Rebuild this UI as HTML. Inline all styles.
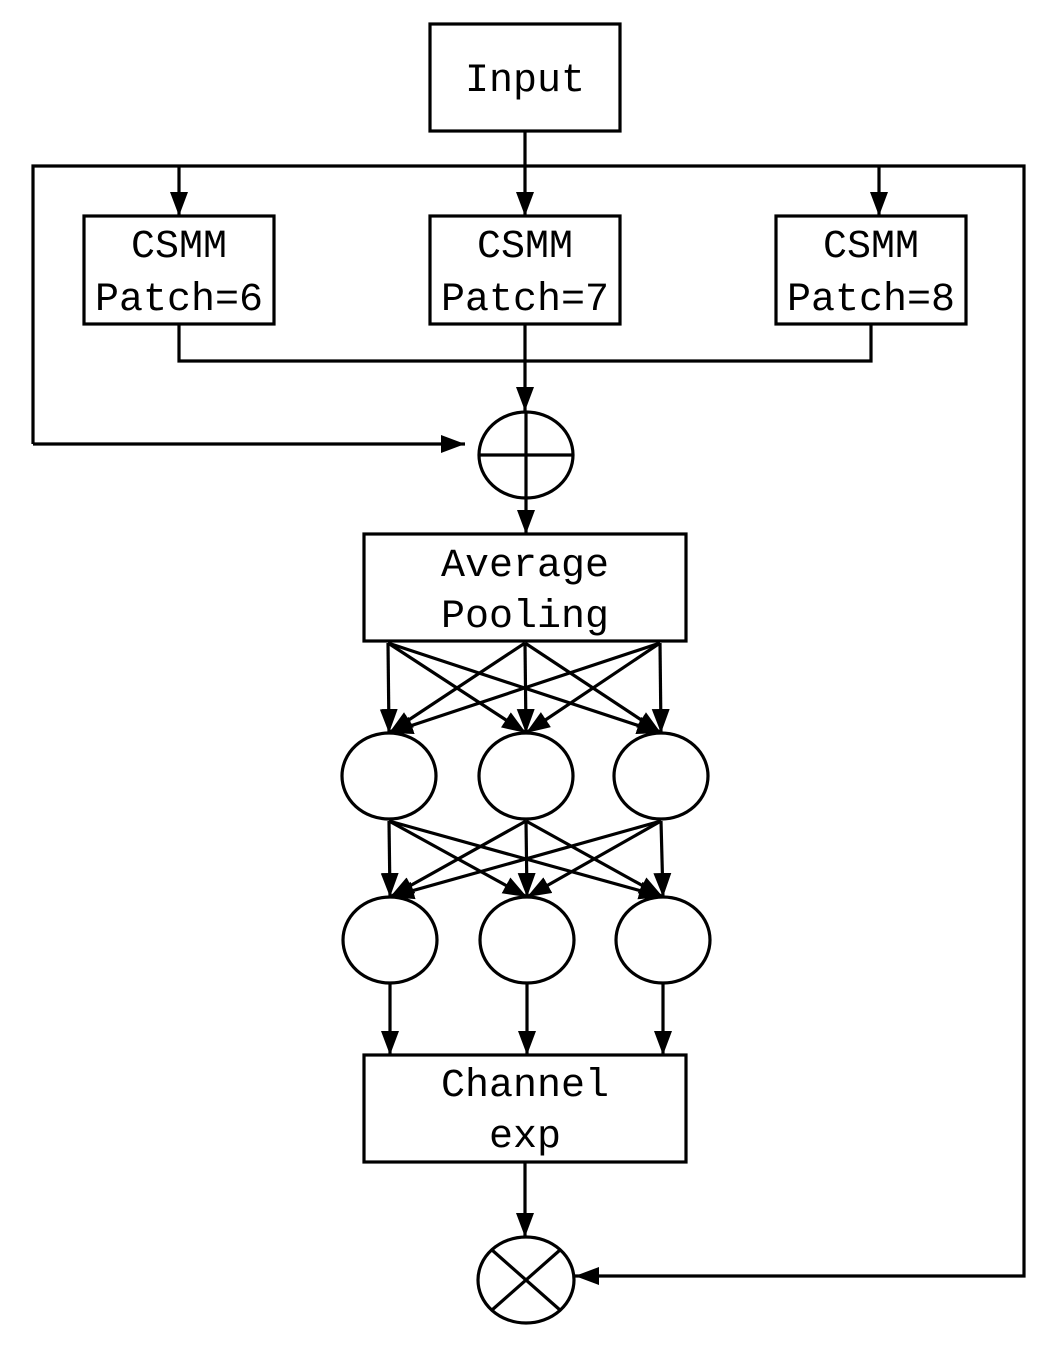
<!DOCTYPE html>
<html><head><style>
html,body{margin:0;padding:0;background:#fff;}
svg{display:block;}
text{font-family:"Liberation Mono","Noto Serif CJK SC",monospace;font-size:40px;fill:#000;text-anchor:middle;}
</style></head><body>
<svg width="1051" height="1356" viewBox="0 0 1051 1356" xmlns="http://www.w3.org/2000/svg">
<defs>
<marker id="a" markerWidth="24" markerHeight="18" refX="24" refY="9" orient="auto" markerUnits="userSpaceOnUse">
<path d="M0,0 L24,9 L0,18 Z" fill="#000"/>
</marker>
</defs>
<g stroke="#000" stroke-width="3.2" fill="none">
<rect x="430" y="24" width="190" height="107"/>
<rect x="84" y="216" width="190" height="108"/>
<rect x="430" y="216" width="190" height="108"/>
<rect x="776" y="216" width="190" height="108"/>
<rect x="364" y="534" width="322" height="107"/>
<rect x="364" y="1055" width="322" height="107"/>

<line x1="525" y1="131" x2="525" y2="216" marker-end="url(#a)"/>
<polyline points="33,444 33,166 1024,166 1024,1276 575,1276" marker-end="url(#a)"/>
<line x1="179" y1="166" x2="179" y2="216" marker-end="url(#a)"/>
<line x1="879" y1="166" x2="879" y2="216" marker-end="url(#a)"/>
<polyline points="179,324 179,361 871,361 871,324"/>
<line x1="525" y1="324" x2="525" y2="411" marker-end="url(#a)"/>
<line x1="33" y1="444" x2="465" y2="444" marker-end="url(#a)"/>

<ellipse cx="526" cy="455" rx="47" ry="43"/>
<line x1="479" y1="455" x2="573" y2="455"/>
<line x1="526" y1="412" x2="526" y2="498"/>
<line x1="526" y1="498" x2="526" y2="534" marker-end="url(#a)"/>

<ellipse cx="389" cy="776" rx="47" ry="43"/>
<ellipse cx="526" cy="776" rx="47" ry="43"/>
<ellipse cx="661" cy="776" rx="47" ry="43"/>
<ellipse cx="390" cy="940" rx="47" ry="43"/>
<ellipse cx="527" cy="940" rx="47" ry="43"/>
<ellipse cx="663" cy="940" rx="47" ry="43"/>

<g marker-end="url(#a)">
<line x1="388" y1="643" x2="389" y2="733"/>
<line x1="388" y1="643" x2="526" y2="733"/>
<line x1="388" y1="643" x2="661" y2="733"/>
<line x1="525" y1="643" x2="389" y2="733"/>
<line x1="525" y1="643" x2="526" y2="733"/>
<line x1="525" y1="643" x2="661" y2="733"/>
<line x1="660" y1="643" x2="389" y2="733"/>
<line x1="660" y1="643" x2="526" y2="733"/>
<line x1="660" y1="643" x2="661" y2="733"/>

<line x1="389" y1="821" x2="390" y2="897"/>
<line x1="389" y1="821" x2="527" y2="897"/>
<line x1="389" y1="821" x2="663" y2="897"/>
<line x1="526" y1="821" x2="390" y2="897"/>
<line x1="526" y1="821" x2="527" y2="897"/>
<line x1="526" y1="821" x2="663" y2="897"/>
<line x1="661" y1="821" x2="390" y2="897"/>
<line x1="661" y1="821" x2="527" y2="897"/>
<line x1="661" y1="821" x2="663" y2="897"/>

<line x1="390" y1="984" x2="390" y2="1055"/>
<line x1="527" y1="984" x2="527" y2="1055"/>
<line x1="663" y1="984" x2="663" y2="1055"/>
<line x1="525" y1="1162" x2="525" y2="1237"/>
</g>

<ellipse cx="526" cy="1280" rx="48" ry="43"/>
<line x1="492" y1="1250" x2="560" y2="1310"/>
<line x1="560" y1="1250" x2="492" y2="1310"/>
</g>

<text x="525" y="91">Input</text>
<text x="179" y="257">CSMM</text>
<text x="179" y="310">Patch=6</text>
<text x="525" y="257">CSMM</text>
<text x="525" y="310">Patch=7</text>
<text x="871" y="257">CSMM</text>
<text x="871" y="310">Patch=8</text>
<text x="525" y="576">Average</text>
<text x="525" y="627">Pooling</text>
<text x="525" y="1096">Channel</text>
<text x="525" y="1147">exp</text>
</svg>
</body></html>
